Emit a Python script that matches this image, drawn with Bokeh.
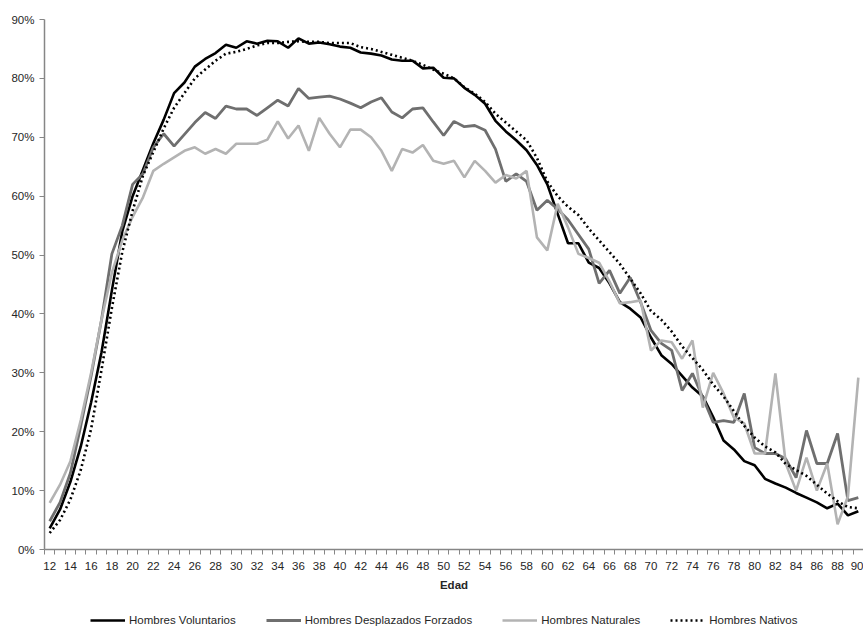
from bokeh.plotting import figure
from bokeh.layouts import column
from bokeh.models import (FixedTicker, NumeralTickFormatter, Legend, LegendItem,
                          ColumnDataSource)
from bokeh.embed import file_html
from bokeh.resources import INLINE

# ---- data (share of men working, by age) ----
ages = list(range(12, 91))
x_tick_labels = [str(a) for a in range(12, 91, 2)]
y_ticks = [0.0, 0.1, 0.2, 0.3, 0.4, 0.5, 0.6, 0.7, 0.8, 0.9]

voluntarios = [
    3.6, 6.8, 11.5, 17.5, 25.0, 33.5, 44.0, 54.0, 60.0, 64.5,
    69.0, 73.0, 77.5, 79.3, 82.0, 83.3, 84.3, 85.7, 85.2, 86.3,
    85.9, 86.4, 86.3, 85.2, 86.8, 85.9, 86.1, 85.8, 85.4, 85.2,
    84.4, 84.2, 83.9, 83.2, 83.0, 83.0, 81.7, 81.8, 80.1, 80.0,
    78.4, 77.2, 75.7, 72.8, 71.0, 69.5, 67.8, 65.3, 62.0, 57.0,
    52.0, 52.0, 48.7, 47.8, 45.2, 42.0, 40.9, 39.4, 36.0, 33.0,
    31.5, 29.5, 27.5, 26.0, 22.5, 18.5, 17.0, 15.0, 14.3, 12.0,
    11.2, 10.5, 9.6, 8.8, 8.0, 7.0, 7.8, 5.8, 6.5]

desplazados = [
    4.8, 8.0, 13.0, 21.0, 29.5, 39.0, 50.2, 55.0, 62.0, 63.8,
    68.3, 70.6, 68.5, 70.5, 72.5, 74.2, 73.2, 75.3, 74.8, 74.8,
    73.7, 75.0, 76.3, 75.3, 78.3, 76.6, 76.8, 77.0, 76.5, 75.8,
    75.0, 76.0, 76.7, 74.3, 73.3, 74.8, 75.0, 72.6, 70.3, 72.7,
    71.8, 72.0, 71.2, 68.0, 62.5, 63.8, 62.5, 57.6, 59.3, 57.8,
    56.0, 53.5, 51.0, 45.2, 47.4, 43.5, 46.2, 42.0, 37.2, 35.0,
    33.8, 27.0, 29.9, 25.8, 21.6, 21.9, 21.6, 26.5, 17.3, 16.3,
    16.3, 15.4, 12.2, 20.2, 14.6, 14.6, 19.7, 8.3, 8.8]

naturales = [
    7.9, 11.0, 15.0, 22.0, 30.0, 39.0, 47.0, 52.5, 56.5, 59.8,
    64.3, 65.5, 66.6, 67.7, 68.3, 67.2, 68.0, 67.2, 68.9, 68.9,
    68.9, 69.6, 72.7, 69.8, 72.0, 67.7, 73.3, 70.6, 68.3, 71.3,
    71.3, 70.0, 67.7, 64.3, 68.0, 67.4, 68.7, 66.0, 65.5, 66.0,
    63.2, 66.0, 64.3, 62.3, 63.6, 63.0, 64.3, 53.0, 50.8, 58.7,
    54.7, 50.2, 49.5, 48.7, 45.5, 41.8, 42.0, 42.3, 33.8, 35.5,
    35.2, 32.4, 35.5, 24.1, 30.0, 26.5, 22.4, 21.4, 16.3, 16.3,
    29.9, 14.6, 10.0, 15.6, 10.0, 14.6, 4.3, 9.0, 29.2]

nativos = [
    2.8, 5.0, 8.5, 13.5, 20.5, 30.5, 41.0, 50.5, 57.5, 63.5,
    67.5, 71.5, 75.0, 77.5, 80.0, 81.5, 83.0, 84.2, 84.5, 85.0,
    85.6, 86.0, 86.0, 86.2, 86.3, 86.2, 86.2, 86.0, 86.0, 86.0,
    85.3, 85.0, 84.5, 84.0, 83.5, 83.0, 82.3, 81.5, 80.8, 80.0,
    78.5, 77.4, 76.0, 74.0, 72.5, 71.0, 69.5, 66.5, 62.5, 60.0,
    58.2, 56.8, 54.5, 52.5, 50.5, 48.5, 46.0, 43.5, 40.5, 39.0,
    37.0, 34.5, 32.5, 30.5, 28.0, 26.0, 23.5, 21.0, 19.0, 17.5,
    16.5, 14.5, 13.5, 12.5, 11.0, 9.5, 8.2, 7.2, 7.0]

series_names = ["Hombres Voluntarios", "Hombres Desplazados Forzados",
                "Hombres Naturales", "Hombres Nativos"]
series_cols = ["vol", "des", "nat", "nav"]
series_colors = ["#000000", "#6f6f6f", "#b3b3b3", "#000000"]
series_widths = [2.6, 2.8, 2.6, 2.6]
series_dash = ["solid", "solid", "solid", "2 3"]

src = ColumnDataSource(dict(
    age=ages,
    vol=[v / 100 for v in voluntarios],
    des=[v / 100 for v in desplazados],
    nat=[v / 100 for v in naturales],
    nav=[v / 100 for v in nativos],
))

FONT = "Liberation Sans"
TXT = "#262626"
AX = "#868686"

# ---------------- main chart ----------------
p = figure(width=863, height=598, output_backend="svg", toolbar_location=None,
           x_range=(ages[0] - 0.5, ages[-1] + 0.5), y_range=(0, 0.9),
           min_border_left=44, min_border_right=0, min_border_top=19,
           min_border_bottom=49)
p.outline_line_color = None
p.xgrid.visible = False
p.ygrid.visible = False
p.background_fill_color = "white"
p.border_fill_color = "white"

for col, c, w, d in zip(series_cols, series_colors, series_widths, series_dash):
    p.line("age", col, source=src, line_color=c, line_width=w, line_dash=d)

# x axis
xa = p.xaxis[0]
xa.ticker = FixedTicker(ticks=[int(t) for t in x_tick_labels],
                        minor_ticks=[a - 0.5 for a in ages] + [ages[-1] + 0.5])
xa.major_tick_out = 0
xa.major_tick_in = 0
xa.minor_tick_out = 5
xa.minor_tick_in = 0
xa.minor_tick_line_color = AX
xa.axis_line_color = AX
xa.axis_line_width = 1.5
xa.major_label_standoff = 7
xa.major_label_text_font = FONT
xa.major_label_text_font_size = "11.5px"
xa.major_label_text_color = TXT
xa.axis_label = "Edad"
xa.axis_label_text_font = FONT
xa.axis_label_text_font_size = "11.5px"
xa.axis_label_text_font_style = "bold"
xa.axis_label_text_color = TXT
xa.axis_label_standoff = 6

# y axis
ya = p.yaxis[0]
ya.ticker = FixedTicker(ticks=y_ticks, minor_ticks=[])
ya.formatter = NumeralTickFormatter(format="0%")
ya.major_tick_out = 5
ya.major_tick_in = 0
ya.major_tick_line_color = AX
ya.axis_line_color = AX
ya.axis_line_width = 1.5
ya.major_label_standoff = 5
ya.major_label_text_font = FONT
ya.major_label_text_font_size = "11.5px"
ya.major_label_text_color = TXT

# ---------------- legend strip ----------------
# same series, kept outside this strip's visible ranges; only their legend
# swatches are shown
pl = figure(width=863, height=28, output_backend="svg", toolbar_location=None,
            x_axis_type=None, y_axis_type=None, x_range=(0, 1), y_range=(0, 1),
            min_border=0)
pl.outline_line_color = None
pl.grid.visible = False
leg_rs = [pl.line("age", col, source=src, line_color=c, line_width=w,
                  line_dash=d)
          for col, c, w, d in zip(series_cols, series_colors, series_widths,
                                  series_dash)]
legend = Legend(items=[LegendItem(label=n, renderers=[r])
                       for n, r in zip(series_names, leg_rs)],
                orientation="horizontal", location=(46, 0),
                glyph_width=35, glyph_height=12, label_height=12,
                label_standoff=4, spacing=30, padding=0, margin=0,
                border_line_alpha=0, background_fill_alpha=0,
                label_text_font=FONT, label_text_font_size="11.5px",
                label_text_color=TXT)
pl.add_layout(legend, "center")

open("out.html", "w").write(file_html(column(p, pl, spacing=0), INLINE))
